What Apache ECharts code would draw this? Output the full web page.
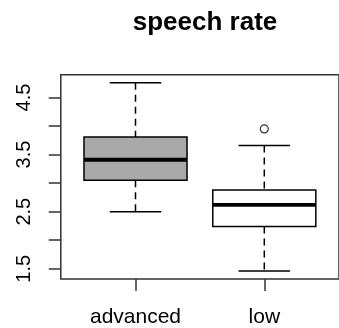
<!DOCTYPE html>
<html>
<head>
<meta charset="utf-8">
<script src="https://cdn.jsdelivr.net/npm/echarts@6/dist/echarts.min.js"></script>
<style>
html,body{margin:0;padding:0;background:#fff;}
#c{width:339px;height:328px;}
</style>
</head>
<body>
<div id="c"></div>
<script>
// ---- data ----
const title = 'speech rate';
const categories = ['advanced', 'low'];
const lowerWhisker = [2.50, 1.46];
const q1 = [3.05, 2.24];
const median = [3.41, 2.62];
const q3 = [3.81, 2.88];
const upperWhisker = [4.76, 3.66];
const outlierGroup = ['low'];
const outlierValue = [3.95];
const yTickValues = [1.5, 2.0, 2.5, 3.0, 3.5, 4.0, 4.5];
const yLabelValues = [1.5, 2.5, 3.5, 4.5];

// ---- styles ----
const boxFills = ['#a9a9a9', '#ffffff'];
const FONT = '"Liberation Sans", Arial, sans-serif';

const boxData = categories.map((c, i) => [i + 1, lowerWhisker[i], q1[i], median[i], q3[i], upperWhisker[i]]);
const outlierData = outlierGroup.map((g, i) => [categories.indexOf(g) + 1, outlierValue[i]]);

const chart = echarts.init(document.getElementById('c'), null, {renderer: 'canvas'});
chart.setOption({
  animation: false,
  backgroundColor: '#ffffff',
  graphic: [{
    type: 'text', x: 205, y: 23,
    style: {text: title, font: 'bold 26px ' + FONT, fill: '#000', textAlign: 'center', textVerticalAlign: 'middle'}
  }],
  grid: {left: 60.8, top: 74.7, width: 288.7, height: 204.8, show: true, borderColor: '#333', borderWidth: 1.5, backgroundColor: 'transparent'},
  xAxis: {
    type: 'value', min: 0.42, max: 2.58,
    splitLine: {show: false},
    axisLine: {show: false},
    axisTick: {show: true, length: 12, customValues: [1, 2], lineStyle: {color: '#333', width: 1.5}},
    axisLabel: {customValues: [1, 2], margin: 28, fontSize: 21, fontFamily: FONT, color: '#000',
      formatter: v => categories[Math.round(v) - 1] || ''}
  },
  yAxis: {
    type: 'value', min: 1.32, max: 4.9,
    splitLine: {show: false},
    axisLine: {show: false},
    axisTick: {show: true, length: 12, customValues: yTickValues, lineStyle: {color: '#333', width: 1.5}},
    axisLabel: {customValues: yLabelValues, rotate: 90, margin: 26, fontSize: 20, fontFamily: FONT, color: '#000',
      formatter: v => v.toFixed(1)}
  },
  series: [{
    type: 'custom',
    data: boxData,
    encode: {x: 0, y: [1, 2, 3, 4, 5]},
    renderItem: function (params, api) {
      const x = api.value(0);
      const lw = api.value(1), a = api.value(2), m = api.value(3), b = api.value(4), uw = api.value(5);
      const halfBox = 0.4, halfCap = 0.2;
      const pc = (xx, yy) => api.coord([xx, yy]);
      const tl = pc(x - halfBox, b), br = pc(x + halfBox, a);
      const mL = pc(x - halfBox, m), mR = pc(x + halfBox, m);
      const cUw = pc(x, uw), cB = pc(x, b), cA = pc(x, a), cLw = pc(x, lw);
      const capUL = pc(x - halfCap, uw), capUR = pc(x + halfCap, uw);
      const capLL = pc(x - halfCap, lw), capLR = pc(x + halfCap, lw);
      const dash = {stroke: '#000', lineWidth: 1.5, lineDash: [7, 5]};
      const solid = {stroke: '#000', lineWidth: 1.5};
      return {
        type: 'group',
        children: [
          {type: 'line', shape: {x1: cUw[0], y1: cUw[1], x2: cB[0], y2: cB[1]}, style: dash},
          {type: 'line', shape: {x1: cA[0], y1: cA[1], x2: cLw[0], y2: cLw[1]}, style: dash},
          {type: 'line', shape: {x1: capUL[0], y1: capUL[1], x2: capUR[0], y2: capUR[1]}, style: solid},
          {type: 'line', shape: {x1: capLL[0], y1: capLL[1], x2: capLR[0], y2: capLR[1]}, style: solid},
          {type: 'rect', shape: {x: tl[0], y: tl[1], width: br[0] - tl[0], height: br[1] - tl[1]},
            style: {fill: boxFills[params.dataIndex], stroke: '#000', lineWidth: 1.5}},
          {type: 'line', shape: {x1: mL[0], y1: mL[1], x2: mR[0], y2: mR[1]}, style: {stroke: '#000', lineWidth: 3.8}}
        ]
      };
    }
  }, {
    type: 'scatter',
    data: outlierData,
    symbol: 'circle',
    symbolSize: 8,
    itemStyle: {color: '#fff', borderColor: '#000', borderWidth: 1.2}
  }]
});
</script>
</body>
</html>
